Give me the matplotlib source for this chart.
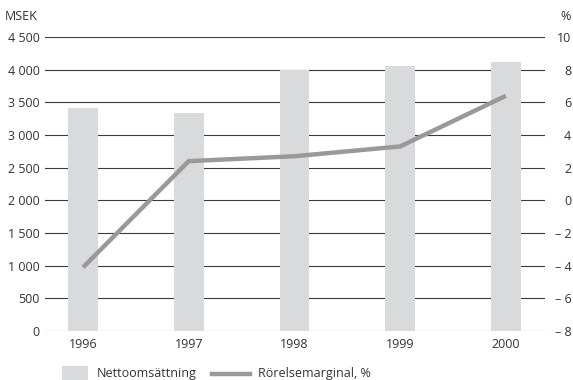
import numpy as np
import matplotlib.pyplot as plt
from matplotlib.patches import Rectangle
from matplotlib.lines import Line2D

years = ['1996', '1997', '1998', '1999', '2000']
nettoomsattning = [3420, 3330, 3990, 4060, 4110]
rorelsemarginal = [-4.1, 2.4, 2.7, 3.3, 6.4]

left_ticks = np.arange(0, 4501, 500)
right_ticks = np.arange(-8, 11, 2)

plt.rcParams['font.family'] = ['Open Sans', 'DejaVu Sans']
plt.rcParams['font.size'] = 9
txt = '#333333'
bar_col = '#d9dadb'
line_col = '#999999'

W, H = 573, 380
fig = plt.figure(figsize=(W / 100, H / 100), dpi=100)
ax = fig.add_axes([45/W, 1 - 331/H, 500/W, 294/H])
ax2 = ax.twinx()

x = np.arange(len(years))
for t in left_ticks:
    ax.axhline(t, color='#3a3a3a', lw=0.8, zorder=1)
ax.bar(x, nettoomsattning, width=0.28, color=bar_col, zorder=2)
ax2.plot(x, rorelsemarginal, color=line_col, lw=3.2, solid_capstyle='butt')

ax.set_xlim(-0.36, 4.37)
ax.set_ylim(0, 4500)
ax2.set_ylim(-8, 10)
ax.set_yticks(left_ticks)
ax.set_yticklabels([f'{v:,}'.replace(',', ' ') for v in left_ticks])
ax2.set_yticks(right_ticks)
ax2.set_yticklabels([(f'– {-v}' if v < 0 else str(v)) for v in right_ticks])
ax.set_xticks(x)
ax.set_xticklabels(years)

for a in (ax, ax2):
    for s in a.spines.values():
        s.set_visible(False)
ax.tick_params(axis='y', length=0, pad=4, colors=txt)
ax.tick_params(axis='x', length=0, pad=5, colors=txt)
ax2.tick_params(axis='y', length=0, pad=19, colors=txt)
for lbl in ax2.get_yticklabels():
    lbl.set_horizontalalignment('right')

fig.text(5/W, 1 - 17/H, 'MSEK', color=txt, va='center', ha='left')
fig.text(571/W, 1 - 17/H, '%', color=txt, va='center', ha='right')

# legend drawn by hand, cut at the bottom like the reference
ly = 1 - 374/H
fig.patches.append(Rectangle((62/W, ly - 6/H), 26/W, 14/H, transform=fig.transFigure,
                             facecolor=bar_col, edgecolor='none'))
fig.text(97/W, ly, 'Nettoomsättning', color=txt, va='center', ha='left')
fig.lines.append(Line2D([212/W, 250/W], [ly, ly], transform=fig.transFigure,
                        color=line_col, lw=3.2))
fig.text(258/W, ly, 'Rörelsemarginal, %', color=txt, va='center', ha='left')

fig.savefig('out.png', dpi=100)
